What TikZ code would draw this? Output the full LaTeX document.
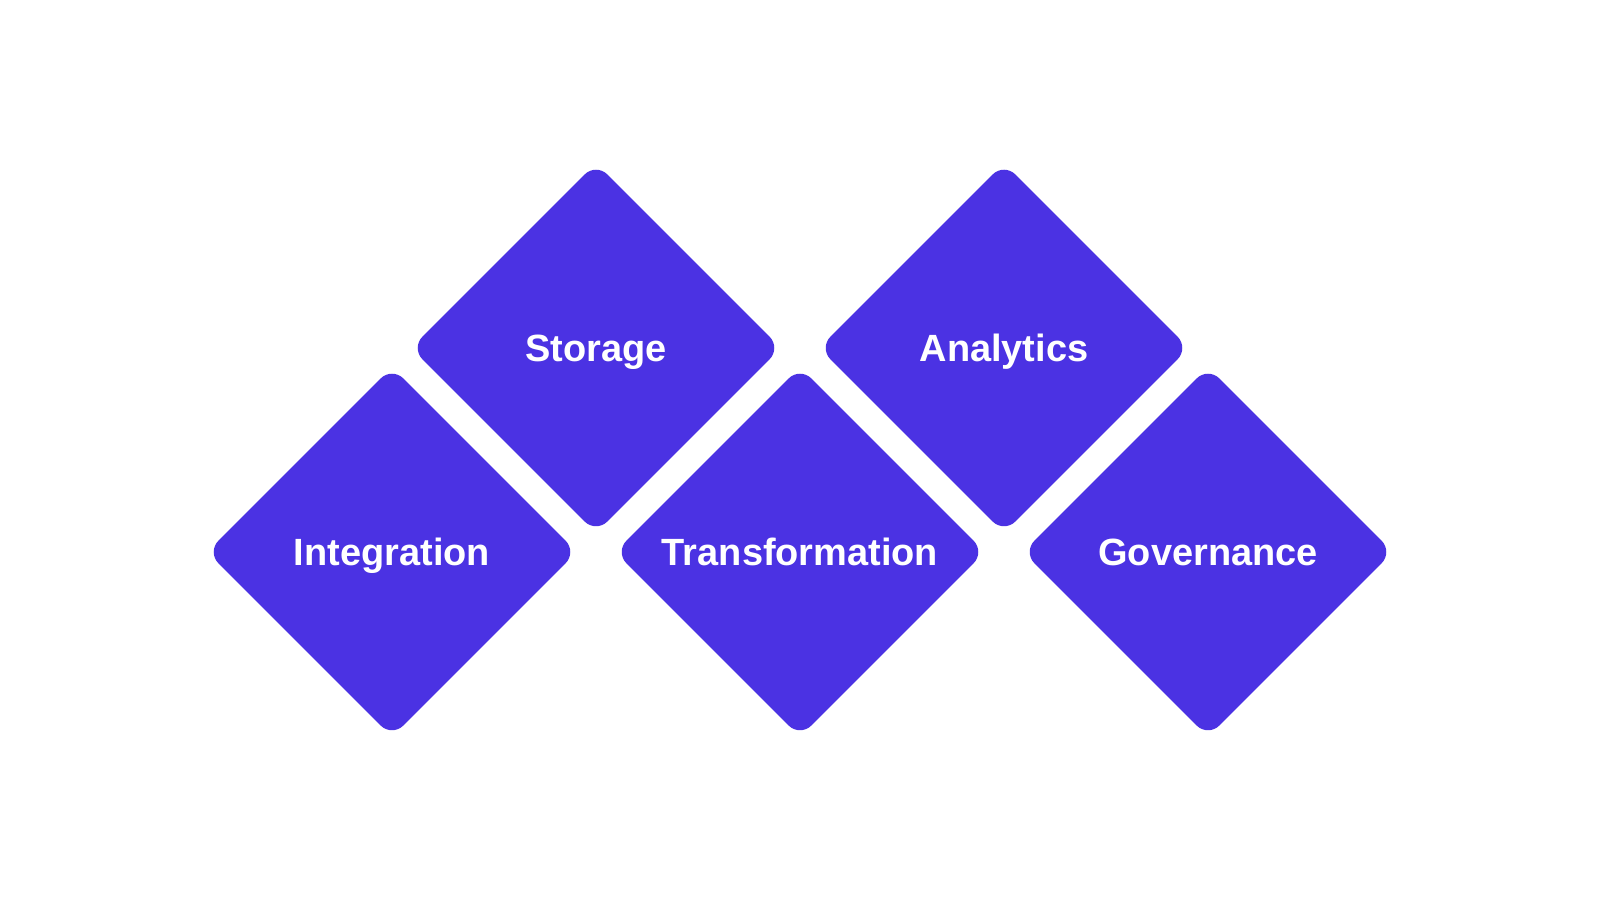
\documentclass[tikz,border=0pt]{standalone}
\usepackage{fontspec}
\setmainfont{Liberation Sans}
\usetikzlibrary{shapes.geometric}
\definecolor{tileblue}{RGB}{75,50,227}
\begin{document}
\begin{tikzpicture}[tile/.style={shape=diamond,aspect=1,minimum width=9.25cm,minimum height=9.25cm,inner sep=0pt,fill=tileblue,rounded corners=0.4cm,text=white,text height=19.5pt,text depth=0pt,font=\fontsize{27}{32}\selectfont\bfseries}]
\useasboundingbox (0,0) rectangle (40,22.5);
\node (d1) at (9.8,8.7) [tile] {Integration};
\node (d2) at (14.9,13.8) [tile] {Storage};
\node (d3) at (20,8.7) [tile] {Transformation};
\node (d4) at (25.1,13.8) [tile] {Analytics};
\node (d5) at (30.2,8.7) [tile] {Governance};
\end{tikzpicture}
\end{document}
